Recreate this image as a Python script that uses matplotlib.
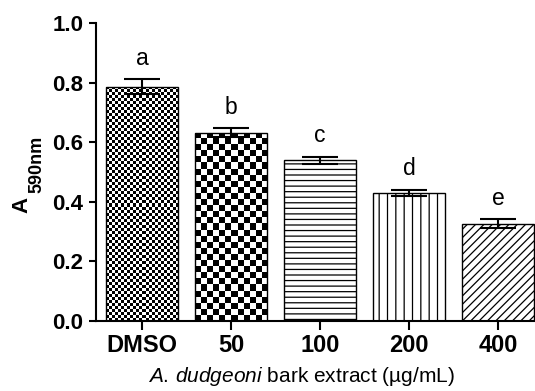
import numpy as np
import matplotlib
matplotlib.use("Agg")
from matplotlib import pyplot as plt

plt.rcParams["font.family"] = ["Liberation Sans", "DejaVu Sans"]
plt.rcParams["mathtext.fontset"] = "custom"
plt.rcParams["mathtext.rm"] = "Liberation Sans"
plt.rcParams["mathtext.it"] = "Liberation Sans:italic"
plt.rcParams["hatch.linewidth"] = 0.9

groups = ["DMSO", "50", "100", "200", "400"]
means = [0.786, 0.632, 0.539, 0.430, 0.326]
errors = [0.025, 0.016, 0.012, 0.011, 0.015]
letters = ["a", "b", "c", "d", "e"]

W, H = 535, 391
fig = plt.figure(figsize=(W / 100, H / 100), dpi=100)
ax = fig.add_axes([96 / W, 70 / H, 1 - 96 / W, 298 / H])

x = np.arange(len(groups))
width = 0.81
hatches = [None, None, "---", "||", "////"]
bars = ax.bar(x, means, width=width, color="white", edgecolor="black",
              linewidth=1.0, zorder=2)
for bar, h in zip(bars, hatches):
    if h:
        bar.set_hatch(h)

# checkerboard fills for the first two bars (drawn under the bar outline)
px_per_x = 89.0
px_per_y = 297.0
for bar, cell in [(bars[0], 3.0), (bars[1], 6.0)]:
    bar.set_facecolor("none")
    x0, w, h = bar.get_x(), bar.get_width(), bar.get_height()
    nx = max(1, int(round(w * px_per_x / cell)))
    ny = max(1, int(round(h * px_per_y / cell)))
    board = np.indices((ny, nx)).sum(axis=0) % 2
    im = ax.imshow(board, cmap="gray", vmin=0, vmax=1, interpolation="nearest",
                   extent=[x0, x0 + w, 0, h], aspect="auto", zorder=1.5)
    im.set_clip_path(bar)

ax.errorbar(x, means, yerr=errors, fmt="none", ecolor="black", elinewidth=1.5,
            capsize=13, capthick=1.5, zorder=5)

for xi, m, e, lab in zip(x, means, errors, letters):
    ax.text(xi, m + e + 0.048, lab, ha="center", va="baseline", fontsize=16.5)

ax.set_xlim(-0.517, 4.416)
ax.set_ylim(0, 1.0)
ax.set_yticks([0.0, 0.2, 0.4, 0.6, 0.8, 1.0])
ax.set_yticklabels(["0.0", "0.2", "0.4", "0.6", "0.8", "1.0"])
ax.set_xticks(x)
ax.set_xticklabels(groups)

for lab in ax.get_yticklabels():
    lab.set_fontweight("bold")
    lab.set_fontsize(16)
for lab in ax.get_xticklabels():
    lab.set_fontweight("bold")
    lab.set_fontsize(17)

ax.spines["top"].set_visible(False)
ax.spines["right"].set_visible(False)
ax.spines["left"].set_linewidth(1.5)
ax.spines["bottom"].set_linewidth(1.5)
ax.tick_params(axis="y", length=5, width=1.5, pad=4)
ax.tick_params(axis="x", length=6.5, width=1.5, pad=3)

# y label: "A" with a low-set subscript, as two rotated texts
fig.text(27 / W, 1 - 213 / H, "A", rotation=90, rotation_mode="anchor",
         ha="left", va="baseline", fontsize=16, fontweight="bold")
fig.text(41 / W, 1 - 193 / H, "590nm", rotation=90, rotation_mode="anchor",
         ha="left", va="baseline", fontsize=13, fontweight="bold")

ax.set_xlabel(r"$\mathit{A.\,dudgeoni}$ bark extract (µg/mL)", fontsize=15)
ax.xaxis.set_label_coords(0.467, -0.148)

fig.savefig("out.png", dpi=100)
